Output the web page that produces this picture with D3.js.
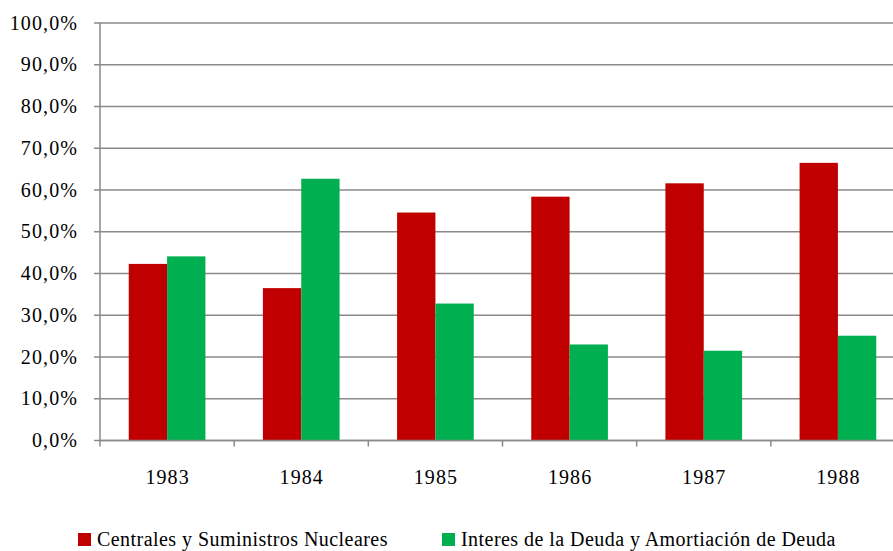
<!DOCTYPE html>
<html><head><meta charset="utf-8">
<script src="https://cdn.jsdelivr.net/npm/d3@7"></script>
<style>body{margin:0;background:#fff}svg{display:block}</style>
</head><body><svg id="c" width="893" height="551"></svg>
<script>
const years = ["1983","1984","1985","1986","1987","1988"];
const seriesNames = ["Centrales y Suministros Nucleares","Interes de la Deuda y Amortiación de Deuda"];
const nuclear = [42.3, 36.5, 54.6, 58.4, 61.6, 66.5];
const deuda = [44.1, 62.7, 32.8, 23.0, 21.5, 25.1];
const yTicks = [0,10,20,30,40,50,60,70,80,90,100];
const colors = ["#C00000","#00B050"];

const FONT = "Liberation Serif";
const svg = d3.select("#c");
const L = 100, R = 905, T = 23, B = 440.5;
const x = d3.scaleBand().domain(years).range([L, R]).paddingInner(0).paddingOuter(0);
const y = d3.scaleLinear().domain([0,100]).range([B, T]);
const fmt = v => d3.format(".1f")(v).replace(".", ",") + "%";

// gridlines
svg.append("g").selectAll("line").data(yTicks).join("line")
  .attr("x1", L - 6).attr("x2", R).attr("y1", d => y(d)).attr("y2", d => y(d))
  .attr("stroke", "#8a8a8a").attr("stroke-width", 1.5);

const cw = x.bandwidth();
const bw = cw / 3.5;
const data = [nuclear, deuda];
data.forEach((vals, si) => {
  svg.append("g").selectAll("rect").data(years).join("rect")
    .attr("x", d => x(d) + 0.75 * bw + si * bw)
    .attr("width", bw)
    .attr("y", (d, i) => y(vals[i]))
    .attr("height", (d, i) => B - y(vals[i]))
    .attr("fill", colors[si]);
});

// axes
svg.append("line").attr("x1", L).attr("x2", L).attr("y1", T).attr("y2", B + 6)
  .attr("stroke", "#8a8a8a").attr("stroke-width", 1.5);
svg.append("line").attr("x1", L).attr("x2", R).attr("y1", B).attr("y2", B)
  .attr("stroke", "#8a8a8a").attr("stroke-width", 1.5);
svg.append("g").selectAll("line").data(years.slice(1)).join("line")
  .attr("x1", d => x(d)).attr("x2", d => x(d)).attr("y1", B).attr("y2", B + 6)
  .attr("stroke", "#8a8a8a").attr("stroke-width", 1.5);

// y labels
svg.append("g").selectAll("text").data(yTicks).join("text")
  .attr("x", 78).attr("y", d => y(d) + 6.5).attr("text-anchor", "end")
  .attr("font-family", FONT).attr("font-size", 20).attr("letter-spacing", 1.1)
  .attr("fill", "#000").text(d => fmt(d));

// x labels
svg.append("g").selectAll("text").data(years).join("text")
  .attr("x", d => x(d) + cw / 2 + 0.5).attr("y", 484).attr("text-anchor", "middle")
  .attr("font-family", FONT).attr("font-size", 20).attr("letter-spacing", 1.1)
  .attr("fill", "#000").text(d => d);

// legend
const legX = [78, 442];
seriesNames.forEach((n, i) => {
  svg.append("rect").attr("x", legX[i]).attr("y", 533).attr("width", 13).attr("height", 13).attr("fill", colors[i]);
  svg.append("text").attr("x", legX[i] + 19).attr("y", 546)
    .attr("font-family", FONT).attr("font-size", 20).attr("letter-spacing", 0.45)
    .attr("fill", "#000").text(n);
});
</script></body></html>
